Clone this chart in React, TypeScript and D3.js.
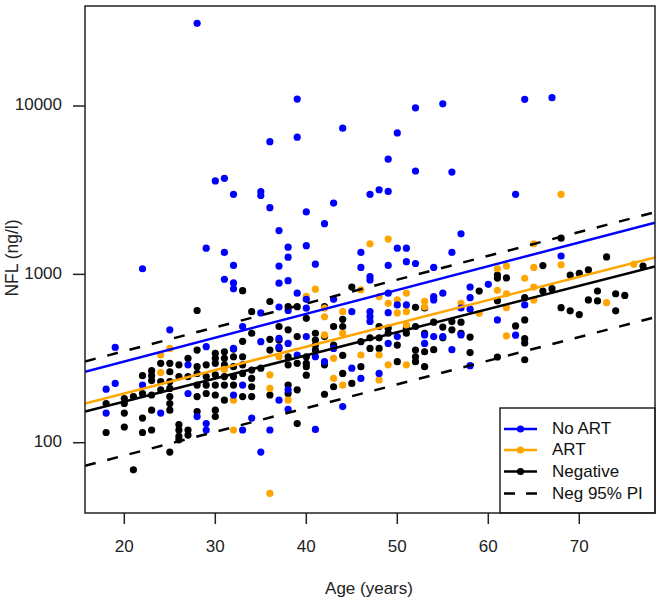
import React from "react";
import * as d3 from "d3";

type P = [number, number];

// [age (years), NFL (ng/l)]
const noArtPoints: P[] = [
  [28, 31000], [39, 11000], [39, 6530], [36, 6140], [44, 7380], [50, 6920], [52, 9750], [55, 10300],
  [64, 10960], [67, 11200], [49, 4830], [52, 4110], [56, 4050], [30, 3590], [31, 3720], [32, 2990],
  [35, 3100], [35, 2940], [36, 2490], [37, 1820], [40, 2350], [42, 2000], [43, 2650], [47, 2990],
  [48, 3180], [49, 3110], [63, 2990], [57, 1740],
  [22, 1080], [29, 1430], [31, 1350], [32, 1130], [31, 935], [32, 890], [32, 820], [37, 1120],
  [37, 886], [35, 590], [37, 640], [25, 468], [19, 368], [29, 372], [33, 490], [35, 398], [37, 417],
  [37, 370], [18, 208], [18, 150], [19, 225], [22, 220], [24, 150], [27, 290], [27, 196], [28, 143],
  [29, 130], [29, 119], [32, 363], [32, 192], [33, 220], [33, 119], [34, 140], [35, 88], [36, 119],
  [38, 1450], [40, 1480], [38, 1265], [50, 1430], [51, 1430], [46, 1350], [49, 1130], [51, 1190],
  [52, 1160], [56, 1350], [41, 1150], [38, 917], [46, 1100], [47, 970], [47, 927], [54, 1100],
  [39, 773], [40, 711], [43, 711], [49, 773], [55, 773], [54, 738], [45, 600], [47, 600], [50, 658],
  [57, 631], [54, 705], [47, 562], [47, 525], [54, 427], [50, 427], [49, 389], [56, 357], [45, 277],
  [46, 241], [48, 258], [44, 164], [37, 179], [41, 120],
  [68, 1285], [58, 841], [60, 873], [58, 727], [58, 621], [64, 658], [61, 536], [63, 435], [58, 287],
  [49, 592], [51, 658], [38, 610], [40, 630], [40, 427], [38, 389], [38, 206], [39, 332], [41, 324],
  [42, 303], [43, 363], [53, 437], [53, 389], [55, 427], [57, 437], [38, 158],
];

const artPoints: P[] = [
  [68, 2990], [49, 1620], [25, 363], [24, 332], [24, 261], [31, 273], [32, 179], [32, 119], [36, 253],
  [36, 210], [36, 50], [47, 1520], [41, 817], [46, 810], [51, 773], [50, 705], [51, 600], [53, 692],
  [37, 324], [43, 317], [46, 332], [48, 332], [49, 290], [51, 290], [48, 236], [43, 241], [44, 220],
  [38, 179], [42, 560], [53, 640], [40, 740],
  [65, 1520], [68, 1140], [62, 1120], [65, 1100], [61, 1080], [64, 948], [61, 804], [62, 767],
  [65, 841], [62, 634], [59, 587], [65, 705], [73, 679], [62, 431], [76, 1150],
  [42, 630], [44, 600], [44, 447], [42, 437], [50, 590], [49, 673], [51, 500], [48, 738], [57, 673],
];

const negativePoints: P[] = [
  [33, 800], [28, 610], [36, 690], [34, 600], [28, 355], [32, 360], [33, 400], [34, 447], [36, 411], [36, 355],
  [18, 171], [18, 115], [20, 183], [20, 171], [20, 150], [20, 124], [21, 188], [21, 69],
  [22, 250], [22, 196], [22, 140], [22, 115],
  [23, 268], [23, 250], [23, 234], [23, 192], [23, 156], [23, 119],
  [24, 296], [24, 231], [24, 206],
  [25, 296], [25, 264], [25, 231], [25, 210], [25, 188], [25, 171], [25, 156], [25, 88],
  [26, 290], [26, 247], [26, 128], [26, 119], [26, 109], [26, 104],
  [27, 317], [27, 247], [27, 119], [27, 111],
  [28, 283], [28, 258], [28, 220], [28, 188], [28, 153],
  [29, 290], [29, 247], [29, 220], [29, 196],
  [30, 340], [30, 317], [30, 296], [30, 253], [30, 220], [30, 192], [30, 156], [30, 143],
  [31, 347], [31, 317], [31, 290], [31, 247], [31, 220], [31, 179],
  [32, 324], [32, 283], [32, 247], [32, 220],
  [33, 324], [33, 290], [33, 258], [33, 188],
  [34, 270], [34, 241], [34, 215], [34, 188],
  [35, 277], [36, 192],
  [45, 840], [38, 468], [39, 427], [40, 548], [41, 447], [41, 407], [42, 427], [43, 490], [44, 541],
  [44, 490], [48, 490], [49, 479], [51, 479], [52, 490], [53, 447], [55, 486], [56, 468], [57, 447],
  [52, 637], [53, 631],
  [38, 290], [38, 324], [39, 296], [40, 324], [40, 296], [40, 283], [41, 380], [41, 355], [42, 290],
  [47, 363], [48, 363], [50, 303], [52, 355], [52, 324], [52, 303], [53, 283], [54, 357], [46, 283],
  [45, 225], [44, 258], [43, 215], [42, 194], [38, 220], [38, 196], [39, 206], [39, 130],
  [37, 490], [37, 407], [37, 363], [38, 643], [39, 643],
  [42, 643], [43, 380], [44, 330], [46, 398], [47, 420], [48, 420], [49, 447], [56, 524],
  [50, 380], [51, 447], [53, 347], [54, 520], [55, 420], [57, 520], [40, 252],
  [68, 1640], [73, 1270], [66, 1127], [61, 990], [61, 950], [62, 953], [59, 796], [69, 990], [70, 1014],
  [71, 1062], [77, 1120], [66, 796], [67, 822], [61, 698], [64, 727], [72, 796], [71, 705], [72, 695],
  [74, 767], [75, 750], [74, 607], [68, 634], [69, 607], [70, 577], [64, 536], [63, 494], [64, 415],
  [64, 391], [58, 424], [58, 343], [61, 323], [64, 311],
];

// fitted lines (end points at the plot edges)
const fitNoArt: P[] = [[15.68, 264], [78.32, 2030]];
const fitArt: P[] = [[15.68, 171], [78.32, 1262]];
const fitNegative: P[] = [[15.68, 153], [78.32, 1113]];
const piUpper: P[] = [[15.68, 304], [78.32, 2340]];
const piLower: P[] = [[15.68, 73], [78.32, 556]];

const xTicks = [20, 30, 40, 50, 60, 70];
const yTicks = [100, 1000, 10000];
const legendLabels = ["No ART", "ART", "Negative", "Neg 95% PI"];
const legendColors = ["#0000FF", "#FFA500", "#000000", "#000000"];

const BLUE = "#0000FF";
const ORANGE = "#FFA500";
const FONT = "'Liberation Sans', Arial, sans-serif";

export default function App() {
  const left = 85, right = 655, top = 6, bottom = 513;
  const x = d3.scaleLinear().domain([15.68, 78.32]).range([left, right]);
  const y = d3.scaleLog().domain([38.24, 39264]).range([bottom, top]);
  const line = d3.line<P>().x((d) => x(d[0])).y((d) => y(d[1]));
  const r = 3.6;

  const dots = (pts: P[], color: string, key: string) =>
    pts.map((d, i) => <circle key={key + i} cx={x(d[0])} cy={y(d[1])} r={r} fill={color} />);

  const lgX = 500, lgY = 408, lgW = 155, lgH = 105;
  const rowY = [429, 450, 471.5, 493.5];

  return (
    <svg width={662} height={605} style={{ position: "absolute", left: 0, top: 0, background: "#fff" }}
      fontFamily={FONT}>
      <rect x={0} y={0} width={662} height={605} fill="#fff" />
      <defs>
        <clipPath id="plotClip">
          <rect x={left} y={top} width={right - left} height={bottom - top} />
        </clipPath>
      </defs>
      <g clipPath="url(#plotClip)">
        {dots(negativePoints, "#000", "k")}
        {dots(artPoints, ORANGE, "o")}
        {dots(noArtPoints, BLUE, "b")}
        <path d={line(fitNoArt) || ""} stroke={BLUE} strokeWidth={2.5} fill="none" />
        <path d={line(fitArt) || ""} stroke={ORANGE} strokeWidth={2.5} fill="none" />
        <path d={line(fitNegative) || ""} stroke="#000" strokeWidth={2.5} fill="none" />
        <path d={line(piUpper) || ""} stroke="#000" strokeWidth={2.5} fill="none" strokeDasharray="11,12" />
        <path d={line(piLower) || ""} stroke="#000" strokeWidth={2.5} fill="none" strokeDasharray="11,12" />
      </g>
      {/* legend */}
      <rect x={lgX} y={lgY} width={lgW} height={lgH} fill="#fff" stroke="#000" strokeWidth={1.3} />
      {legendLabels.map((lab, i) => (
        <g key={lab}>
          <line x1={504} x2={537} y1={rowY[i]} y2={rowY[i]} stroke={legendColors[i]} strokeWidth={2.5}
            strokeDasharray={i === 3 ? "11,11" : undefined} />
          {i < 3 && <circle cx={520.5} cy={rowY[i]} r={r} fill={legendColors[i]} />}
          <text x={552} y={rowY[i] + 1} dominantBaseline="middle" fontSize={17} fill="#111">{lab}</text>
        </g>
      ))}
      {/* frame */}
      <rect x={left} y={top} width={right - left} height={bottom - top} fill="none" stroke="#222" strokeWidth={1.5} />
      {/* x axis */}
      {xTicks.map((t) => (
        <g key={"x" + t}>
          <line x1={x(t)} x2={x(t)} y1={bottom} y2={bottom + 11} stroke="#222" strokeWidth={1.5} />
          <text x={x(t)} y={548} textAnchor="middle" dominantBaseline="middle" fontSize={17} fill="#222">{t}</text>
        </g>
      ))}
      {yTicks.map((t) => (
        <g key={"y" + t}>
          <line x1={left - 12} x2={left} y1={y(t)} y2={y(t)} stroke="#222" strokeWidth={1.5} />
          <text x={62} y={y(t)} textAnchor="end" dominantBaseline="middle" fontSize={17} fill="#222">{t}</text>
        </g>
      ))}
      <text x={369} y={590} textAnchor="middle" dominantBaseline="middle" fontSize={17} fill="#222">Age (years)</text>
      <text transform={`translate(13,258) rotate(-90)`} textAnchor="middle" dominantBaseline="middle" fontSize={17.5} fill="#222">NFL (ng/l)</text>
    </svg>
  );
}
